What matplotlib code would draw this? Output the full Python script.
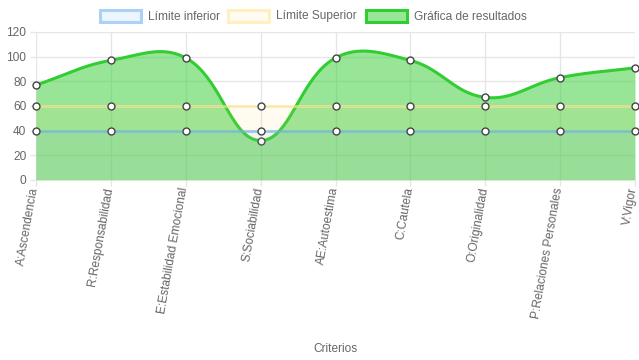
import numpy as np
import matplotlib
matplotlib.use("Agg")
import matplotlib.pyplot as plt
import matplotlib.transforms as mtransforms
from matplotlib.patches import Rectangle

# data
criterios = ["A:Ascendencia", "R:Responsabilidad", "E:Estabilidad Emocional",
             "S:Sociabilidad", "AE:Autoestima", "C:Cautela", "O:Originalidad",
             "P:Relaciones Personales", "V:Vigor"]
limite_inferior = [40, 40, 40, 40, 40, 40, 40, 40, 40]
limite_superior = [60, 60, 60, 60, 60, 60, 60, 60, 60]
resultados = [77, 97, 99, 32, 99, 97, 67, 83, 91]

W, H = 639, 360
plt.rcParams['font.family'] = ['Liberation Sans', 'DejaVu Sans']
fig = plt.figure(figsize=(W / 100, H / 100), dpi=100)
ax = fig.add_axes([36 / W, 1 - 180 / H, (635 - 36) / W, (180 - 32) / H])
n = len(criterios)
ax.set_xlim(0, n - 1)
ax.set_ylim(0, 120)


def chartjs_spline(xs, ys, tension=0.4):
    # bezier curve like Chart.js, computed in pixel space
    pts = ax.transData.transform(np.column_stack([xs, ys]))
    out = []
    m = len(pts)
    cps = []
    for i in range(m):
        prev = pts[max(i - 1, 0)]
        cur = pts[i]
        nxt = pts[min(i + 1, m - 1)]
        d01 = np.hypot(*(cur - prev))
        d12 = np.hypot(*(nxt - cur))
        tot = d01 + d12
        s01 = d01 / tot if tot else 0
        s12 = d12 / tot if tot else 0
        cps.append((cur - tension * s01 * (nxt - prev), cur + tension * s12 * (nxt - prev)))
    t = np.linspace(0, 1, 40)[:, None]
    for i in range(m - 1):
        p0 = pts[i]
        p1 = cps[i][1]
        p2 = cps[i + 1][0]
        p3 = pts[i + 1]
        seg = ((1 - t) ** 3) * p0 + 3 * ((1 - t) ** 2) * t * p1 + 3 * (1 - t) * t ** 2 * p2 + t ** 3 * p3
        out.append(seg if i == 0 else seg[1:])
    curve = np.vstack(out)
    return ax.transData.inverted().transform(curve)


x = np.arange(n)
green = (50 / 255, 205 / 255, 50 / 255)
datasets = [
    # label, values, line color, fill color, zorder base
    ("Gráfica de resultados", resultados, green, (*green, 0.5), 2),
    ("Límite Superior", limite_superior, (1, 230 / 255, 148 / 255, 0.6), (1, 205 / 255, 86 / 255, 0.08), 5),
    ("Límite inferior", limite_inferior, (115 / 255, 181 / 255, 230 / 255, 0.6), (54 / 255, 162 / 255, 235 / 255, 0.07), 8),
]
for label, vals, lc, fc, z in datasets:
    cur = chartjs_spline(x, vals)
    ax.fill_between(cur[:, 0], cur[:, 1], 0, color=fc, lw=0, zorder=z)
    ax.plot(cur[:, 0], cur[:, 1], color=lc, lw=2.2, zorder=z + 1, solid_capstyle='butt')
    ax.plot(x, vals, 'o', ms=5, mfc='white', mec='#444444', mew=1, zorder=z + 2, clip_on=False)

ax.set_yticks(range(0, 121, 20))
ax.set_xticks(x)
ax.set_xticklabels([])
# rotated category labels, drawn as texts so they can be nudged
lbl_tr = ax.get_xaxis_transform() + mtransforms.ScaledTranslation(-1 / 100, -7.5 / 100, fig.dpi_scale_trans)
for i, name in enumerate(criterios):
    ax.text(i, 0, name, transform=lbl_tr, rotation=80, ha='right', va='center',
            rotation_mode='anchor', color='#666666', fontsize=8.6, clip_on=False)
ax.tick_params(colors='#e6e6e6', labelcolor='#666666', labelsize=8.6, length=4, width=1, pad=3)
ax.grid(True, color='#e6e6e6', lw=1, zorder=0)
for s in ax.spines.values():
    s.set_visible(False)
ax.axhline(0, color='#bfbfbf', lw=1, zorder=10)
fig.text(335 / W, 1 - 352 / H, "Criterios", color='#666666', fontsize=8.6, ha='center', va='baseline')

# legend like Chart.js
legend = [("Límite inferior", 100, (173 / 255, 209 / 255, 245 / 255), (235 / 255, 245 / 255, 253 / 255)),
          ("Límite Superior", 228, (1, 240 / 255, 195 / 255), (1, 251 / 255, 240 / 255)),
          ("Gráfica de resultados", 366, green, (152 / 255, 230 / 255, 152 / 255))]
for label, px, ec, fc in legend:
    fig.add_artist(Rectangle((px / W, 1 - 21.5 / H), 41 / W, 12 / H, transform=fig.transFigure,
                             facecolor=fc, edgecolor=ec, lw=2.2))
    fig.text((px + 48) / W, 1 - 19.5 / H, label, color='#666666', fontsize=8.6, va='baseline', ha='left')

fig.savefig("out.png", dpi=100)
